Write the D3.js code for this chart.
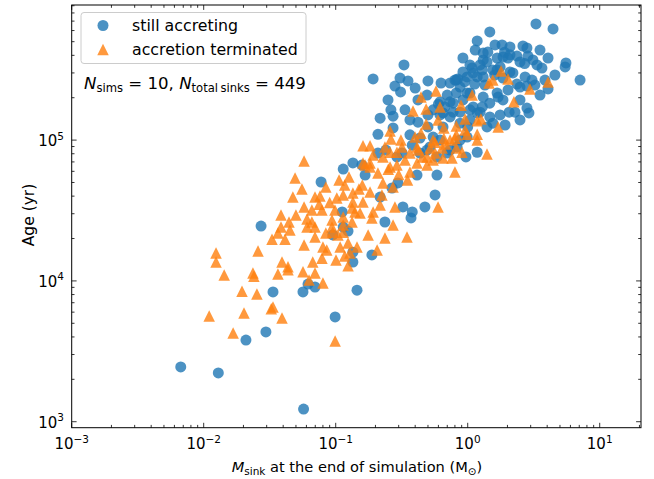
<!DOCTYPE html>
<html><head><meta charset="utf-8">
<script src="https://cdn.jsdelivr.net/npm/d3@7"></script>
<style>body{margin:0;background:#fff}svg{display:block;font-family:"DejaVu Sans",sans-serif}</style>
</head><body><svg id="c" width="654" height="479"></svg>
<script>
const blueMass=[0.0067,0.0129,0.0209,0.0296,0.0272,0.0335,0.0565,0.0697,0.0617,0.0571,0.099,0.145,0.135,0.188,0.095,0.124,0.114,0.135,0.112,0.236,0.372,0.38,0.323,0.474,0.566,0.217,0.296,0.267,0.413,0.585,0.167,0.114,0.135,0.158,0.209,0.318,0.0775,0.24,0.291,0.209,0.365,0.435,0.547,0.272,0.42,0.50,0.65,0.50,0.547,0.65,0.775,0.617,0.735,0.42,0.492,0.249,0.262,0.272,0.335,0.329,0.192,0.307,0.353,0.281,0.50,0.628,0.735,0.84,0.492,0.617,0.518,0.435,0.831,0.697,0.585,0.99,0.875,0.97,1.18,0.875,1.0,1.40,1.55,1.24,2.06,2.91,2.81,1.85,1.67,1.47,1.31,1.29,1.10,0.92,0.67,0.617,0.735,0.875,1.18,1.47,1.04,0.775,0.99,0.82,1.04,0.875,0.99,1.18,1.29,0.92,0.82,1.10,1.31,1.55,1.76,2.09,1.85,2.02,1.70,2.49,2.72,3.07,2.81,3.23,3.85,4.06,7.1,5.55,5.47,3.65,3.35,3.12,2.86,2.36,2.09,1.85,1.67,1.40,1.24,1.04,1.31,1.31,1.42,2.02,1.18,1.61,1.82,2.09,2.62,2.81,1.47,3.29,4.43,
 2.36,1.08,1.67,2.2,0.80,2.49,2.28,3.53,1.35,0.92,1.14,2.49,4.06,4.58,3.53,1.76,1.92,1.04,0.70,0.365,0.31,0.217,0.40,2.49,0.38,0.735,1.13,0.60,1.6,2.7,0.95,1.9];
const blueAge=[2450,2220,3800,4340,24500,8350,8350,9050,9500,1230,5550,8600,13600,15300,21200,22600,24100,16000,30900,26200,28000,30900,33500,33500,40800,39400,49600,45700,56500,56500,56500,62300,68800,66500,81000,81000,50400,85000,76000,110000,109000,103500,105000,122000,134000,124000,124000,151000,164000,156000,158000,187000,187000,193000,209000,193000,164000,148000,164000,342000,272000,276000,263000,242000,263000,254000,254000,272000,85000,100000,89500,81000,89500,81000,76000,105000,100000,76000,82000,132000,124000,124000,132000,158000,158000,156000,169000,193000,216000,183000,202000,172000,172000,193000,172000,151000,146000,158000,156000,146000,164000,183000,216000,216000,216000,238000,281000,281000,315000,305000,267000,300000,281000,315000,331000,305000,276000,227000,202000,238000,281000,267000,242000,246000,267000,231000,267000,353000,331000,325000,342000,371000,395000,395000,403000,389000,383000,359000,342000,342000,371000,416000,422000,383000,506000,474000,474000,459000,466000,451000,586000,668000,616000,
 250000,325000,315000,300000,267000,193000,158000,209000,246000,383000,436000,359000,383000,290000,436000,151000,128000,139000,209000,139000,220000,143000,234000,139000,92000,85000,250000,180000,290000,350000,260000,420000];
const orangeMass=[0.0143,0.0236,0.0365,0.0435,0.0565,0.0697,0.0628,0.080,0.0195,0.0253,0.011,0.0202,0.0335,0.0325,0.0392,0.0167,0.099,0.0576,0.0492,0.0555,0.0474,0.0697,0.076,0.0842,0.106,0.126,0.114,0.102,0.135,0.0576,0.066,0.0787,0.0987,0.133,0.0385,0.050,0.0443,0.0606,0.066,0.0937,0.114,0.0385,0.0365,0.0329,0.0413,0.0697,0.0606,0.0937,0.0697,0.0842,0.095,0.0576,0.080,0.108,0.124,0.0258,0.0124,0.0124,0.0392,0.0435,0.067,0.0787,0.1005,0.117,0.024,0.124,0.114,0.176,0.145,0.206,0.0855,0.153,0.128,0.135,0.161,0.159,0.182,0.224,0.228,0.272,0.281,0.217,0.192,0.188,0.14,0.133,0.114,0.104,0.236,0.347,0.272,0.596,0.80,0.547,0.65,0.76,0.413,0.335,0.209,0.365,0.492,0.291,0.161,0.182,1.79,1.55,1.45,2.02,4.06,2.96,1.08,2.24,0.443,0.575,0.617,0.89,0.484,0.385,0.955,1.26,1.18,1.70,1.40,0.596,0.484,0.66,0.82,0.955,0.99,1.18,0.258,0.262,0.312,0.399,0.443,0.547,0.66,0.735,0.80,0.68,0.905,1.18,0.492,0.413,0.365,0.318,0.291,0.236,0.182,0.161,0.228,0.167,0.182,0.258,0.518,0.566,0.258,0.42,0.64,0.82,0.455,0.82,
 0.192,0.566,0.117,0.30,0.35,0.25,0.15,0.075,0.09,0.045];
const orangeAge=[11000,11400,11200,12000,11600,11400,10150,9650,8450,8070,5630,5910,6530,6330,5460,4270,3740,71100,53800,44900,39400,39400,40100,46400,52000,54700,40800,38800,42100,33500,31900,31900,31900,32900,29400,29400,26200,27500,26200,27100,28400,24100,21900,19800,19800,24100,24100,24100,20500,21900,22200,18000,17400,17400,18600,16300,15800,13600,13600,12600,13600,14500,14100,15000,10800,12800,22200,21200,17400,16600,16600,30300,15800,36300,36300,48000,42800,40800,49600,46400,33500,34600,30900,28000,30900,26200,25000,21200,20200,20500,25000,33500,59400,72200,74500,74500,68800,72200,58300,59400,66500,66500,68800,68800,310000,267000,254000,272000,259000,231000,209000,187000,202000,223000,172000,177000,166000,161000,141000,141000,137000,124000,79600,139000,130000,122000,126000,118000,110000,110000,116000,102000,100000,105000,112000,100000,103000,100000,103000,93700,82000,100000,76000,89500,81000,89500,82000,89500,91000,91000,76000,66500,64300,64300,88000,96600,82000,85000,88000,88000,76000,109000,
 78300,81000,48000,57000,52000,62000,45000,35000,36000,23000];
const xTickExps=[-3,-2,-1,0,1];
const yTickExps=[3,4,5];
const seriesLabels=["still accreting","accretion terminated"];
const nSims=10, nTotal=449;

const svg=d3.select("#c");
const L=71.7,R=641,T=5,B=427.7;
const x=d3.scaleLog().domain([1e-3,20.55]).range([L,R]);
const y=d3.scaleLog().domain([906.7,9.11e5]).range([B,T]);
const blue="#1f77b4",orange="#ff7f0e";

const gP=svg.append("g");
const bd=blueMass.map((m,i)=>({m,a:blueAge[i]}));
const od=orangeMass.map((m,i)=>({m,a:orangeAge[i]}));
gP.selectAll("circle").data(bd).join("circle")
 .attr("cx",d=>x(d.m)).attr("cy",d=>y(d.a)).attr("r",5.5)
 .attr("fill",blue).attr("fill-opacity",0.8);
function triPath(s){const h=s/2;return `M0,${-h}L${-h},${h}L${h},${h}Z`;}
gP.selectAll("path.t").data(od).join("path").attr("class","t")
 .attr("d",triPath(11.5)).attr("transform",d=>`translate(${x(d.m)},${y(d.a)})`)
 .attr("fill",orange).attr("fill-opacity",0.8);

svg.append("rect").attr("x",L).attr("y",T).attr("width",R-L).attr("height",B-T)
 .attr("fill","none").attr("stroke","#000").attr("stroke-width",1);

const gT=svg.append("g").attr("stroke","#000").attr("stroke-width",0.8);
const xMinor=[],yMinor=[];
for(let e=-3;e<=1;e++)for(let k=1;k<=9;k++){const v=k*Math.pow(10,e);if(v>=1e-3&&v<=20.55)xMinor.push({v,major:k===1});}
for(let e=2;e<=5;e++)for(let k=1;k<=9;k++){const v=k*Math.pow(10,e);if(v>=906.7&&v<=9.11e5)yMinor.push({v,major:k===1});}
xMinor.forEach(t=>{const px=x(t.v),len=t.major?4.9:2.8;
 gT.append("line").attr("x1",px).attr("x2",px).attr("y1",B).attr("y2",B-len);
 gT.append("line").attr("x1",px).attr("x2",px).attr("y1",T).attr("y2",T+len);});
yMinor.forEach(t=>{const py=y(t.v),len=t.major?4.9:2.8;
 gT.append("line").attr("y1",py).attr("y2",py).attr("x1",L).attr("x2",L+len);
 gT.append("line").attr("y1",py).attr("y2",py).attr("x1",R).attr("x2",R-len);});

xTickExps.forEach(e=>{const t=svg.append("text").attr("x",x(Math.pow(10,e))).attr("y",449)
 .attr("text-anchor","middle").attr("font-size",15).attr("fill","#000");
 t.append("tspan").text("10");
 t.append("tspan").attr("dy",-6.5).attr("font-size",10.5).text(e<0?"\u2212"+(-e):String(e));});
yTickExps.forEach(e=>{const t=svg.append("text").attr("x",64).attr("y",y(Math.pow(10,e))+6)
 .attr("text-anchor","end").attr("font-size",15).attr("fill","#000");
 t.append("tspan").text("10");
 t.append("tspan").attr("dy",-6.5).attr("font-size",10.5).text(String(e));});

const xl=svg.append("text").attr("x",357).attr("y",472).attr("text-anchor","middle").attr("font-size",14.6);
xl.append("tspan").attr("font-style","italic").text("M");
xl.append("tspan").attr("dy",3).attr("font-size",10.5).text("sink");
xl.append("tspan").attr("dy",-3).text(" at the end of simulation (M");
xl.append("tspan").attr("dy",3).attr("font-size",10.5).text("\u2299");
xl.append("tspan").attr("dy",-3).text(")");
svg.append("text").attr("transform","translate(34,215) rotate(-90)").attr("text-anchor","middle")
 .attr("font-size",15.5).text("Age (yr)");

svg.append("rect").attr("x",81).attr("y",12.5).attr("width",225).attr("height",51).attr("rx",3)
 .attr("fill","#fff").attr("fill-opacity",0.8).attr("stroke","#ccc").attr("stroke-width",1);
svg.append("circle").attr("cx",103).attr("cy",25.5).attr("r",5.5).attr("fill",blue).attr("fill-opacity",0.8);
svg.append("path").attr("d",triPath(11.5)).attr("transform","translate(103,49.5)").attr("fill",orange).attr("fill-opacity",0.8);
svg.append("text").attr("x",132).attr("y",31).attr("font-size",15.8).text(seriesLabels[0]);
svg.append("text").attr("x",132).attr("y",55).attr("font-size",15.8).text(seriesLabels[1]);

const an=svg.append("text").attr("x",84).attr("y",88.5).attr("font-size",16.6);
an.append("tspan").attr("font-style","italic").text("N");
an.append("tspan").attr("dy",3.5).attr("font-size",11.6).text("sims");
an.append("tspan").attr("dy",-3.5).text(" = "+nSims+", ");
an.append("tspan").attr("font-style","italic").text("N");
an.append("tspan").attr("dy",3.5).attr("font-size",11.6).text("total\u2009sinks");
an.append("tspan").attr("dy",-3.5).text(" = "+nTotal);
</script></body></html>
